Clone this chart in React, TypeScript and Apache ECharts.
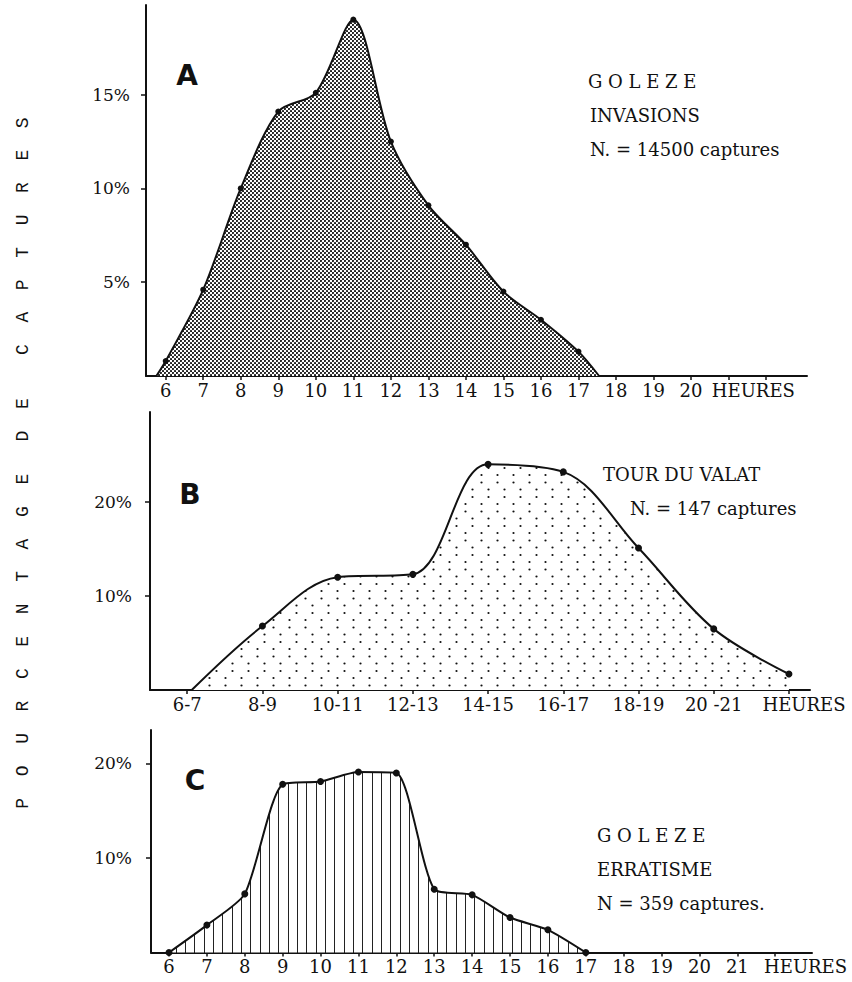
import React, { useEffect, useRef } from 'react';
import * as echarts from 'echarts';

// ---------- data ----------
// Panel A : GOLEZE invasions (hour, % of captures)
const hoursA = [6, 7, 8, 9, 10, 11, 12, 13, 14, 15, 16, 17];
const valuesA = [0.8, 4.6, 10.0, 14.1, 15.1, 19.0, 12.5, 9.1, 7.0, 4.5, 3.0, 1.3];
const zeroStartA = 5.75;
const zeroEndA = 17.55;
const labelHoursA = [6, 7, 8, 9, 10, 11, 12, 13, 14, 15, 16, 17, 18, 19, 20];
const tickHoursA = [6, 7, 8, 9, 10, 11, 12, 13, 14, 15, 16, 17, 18, 19, 20, 21, 22];

// Panel B : Tour du Valat (2-hour classes)
const classLabelsB = ['6-7', '8-9', '10-11', '12-13', '14-15', '16-17', '18-19', '20 -21'];
const classHoursB = [6, 8, 10, 12, 14, 16, 18, 20];
const hoursB = [8, 10, 12, 14, 16, 18, 20, 22];
const valuesB = [6.8, 12.0, 12.3, 24.0, 23.2, 15.1, 6.5, 1.7];
const zeroStartB = 6.12;
const tickHoursB = [6, 8, 10, 12, 14, 16, 18, 20, 22];

// Panel C : GOLEZE erratisme
const hoursC = [6, 7, 8, 9, 10, 11, 12, 13, 14, 15, 16, 17];
const valuesC = [0, 2.9, 6.2, 17.8, 18.1, 19.1, 19.0, 6.7, 6.1, 3.7, 2.4, 0];
const labelHoursC = [6, 7, 8, 9, 10, 11, 12, 13, 14, 15, 16, 17, 18, 19, 20, 21];
const tickHoursC = [6, 7, 8, 9, 10, 11, 12, 13, 14, 15, 16, 17, 18, 19, 20, 21, 22];

const yTicksA = [5, 10, 15];
const yTicksB = [10, 20];
const yTicksC = [10, 20];

// ---------- style ----------
const INK = '#111111';
const SERIF = '"DejaVu Serif", serif';
const MONO = '"Liberation Mono", monospace';
const SANS = '"DejaVu Sans", sans-serif';
const HEURES_A = 21.66;
const HEURES_B = 22.4;
const HEURES_C = 22.8;

function makePattern(kind: 'A' | 'B' | 'C') {
  const c = document.createElement('canvas');
  let w = 4, h = 4;
  if (kind === 'B') { w = 16; h = 29; }
  if (kind === 'C') { w = 28; h = 4; }
  c.width = w; c.height = h;
  const ctx = c.getContext('2d')!;
  ctx.fillStyle = '#ffffff';
  ctx.fillRect(0, 0, w, h);
  ctx.fillStyle = INK;
  const dot = (x: number, y: number, r: number) => {
    ctx.beginPath(); ctx.arc(x, y, r, 0, Math.PI * 2); ctx.fill();
  };
  if (kind === 'A') {
    dot(1, 1, 1.05); dot(3, 3, 1.05);
  } else if (kind === 'B') {
    dot(8.5, 4, 1.1); dot(1.5, 11, 1.1); dot(1.5, 18.5, 1.1); dot(8.5, 25.5, 1.1);
  } else {
    ctx.fillStyle = '#222';
    ctx.fillRect(8, 0, 1, h); ctx.fillRect(17, 0, 1, h); ctx.fillRect(26, 0, 1, h);
  }
  return { image: c, repeat: 'repeat', imageWidth: w, imageHeight: h } as any;
}

function buildSeries(hours: number[], values: number[], start: number | null, end: number | null) {
  const d: any[] = [];
  if (start !== null) d.push({ value: [start, 0], symbol: 'none' });
  hours.forEach((h, i) => d.push({ value: [h, values[i]] }));
  if (end !== null) d.push({ value: [end, 0], symbol: 'none' });
  return d;
}

export default function App() {
  const ref = useRef<HTMLDivElement>(null);
  useEffect(() => {
    document.body.style.margin = '0';
    if (!ref.current) return;
    const chart = echarts.init(ref.current, undefined, { renderer: 'svg' });

    const xAxisBase = (gridIndex: number, min: number, max: number, ticks: number[], labels: number[], fmt: (v: number) => string) => ({
      type: 'value', gridIndex, min, max,
      axisLine: { show: true, onZero: false, lineStyle: { color: INK, width: 2 } },
      splitLine: { show: false },
      axisTick: { show: true, length: 4, inside: false, customValues: ticks, lineStyle: { color: INK, width: 1.5 } },
      axisLabel: { show: true, customValues: labels, formatter: fmt, margin: 5, fontFamily: SERIF, fontSize: 18, color: INK, hideOverlap: false },
    });
    const yAxisBase = (gridIndex: number, max: number, ticks: number[], shift: number, margin: number) => ({
      type: 'value', gridIndex, min: 0, max,
      axisLine: { show: true, onZero: false, lineStyle: { color: INK, width: 2 } },
      splitLine: { show: false },
      axisTick: { show: true, length: 5, inside: false, customValues: ticks, lineStyle: { color: INK, width: 1.5 } },
      axisLabel: { show: true, customValues: ticks, formatter: (v: number) => v + '%', margin, fontFamily: SERIF, fontSize: 17, color: INK, padding: [shift * 2, 0, 0, 0] },
    });

    const lineSeries = (idx: number, data: any[], pattern: any, size: number, smooth: number) => ({
      type: 'line', xAxisIndex: idx, yAxisIndex: idx, data, smooth,
      symbol: 'circle', symbolSize: size, showSymbol: true, showAllSymbol: true,
      itemStyle: { color: INK },
      lineStyle: { color: INK, width: 2 },
      areaStyle: { color: pattern, opacity: 1 },
      emphasis: { disabled: true },
      z: 2,
    });

    const labelB = (v: number) => {
      if (v > 21) return 'HEURES';
      const i = classHoursB.indexOf(Math.round(v));
      return i >= 0 ? classLabelsB[i] : '';
    };

    const t = (text: string, x: number, y: number, size = 18, font = SERIF, weight: any = 'normal', align = 'left') => ({
      type: 'text', x, y,
      style: { text, fontFamily: font, fontSize: size, fontWeight: weight, fill: INK, align, verticalAlign: 'middle' },
      z: 10,
    });

    chart.setOption({
      animation: false,
      grid: [
        { left: 146, top: 5, width: 661, height: 371 },
        { left: 150, top: 412, width: 660, height: 278 },
        { left: 151, top: 730, width: 661, height: 222.5 },
      ],
      xAxis: [
        xAxisBase(0, 5.475, 23.09, tickHoursA, [...labelHoursA, HEURES_A], (v) => (v > 20.5 ? 'HEURES' : String(v))),
        xAxisBase(1, 5.01, 22.56, tickHoursB, [...classHoursB, HEURES_B], labelB),
        xAxisBase(2, 5.525, 22.97, tickHoursC, [...labelHoursC, HEURES_C], (v) => (v > 21.5 ? 'HEURES' : String(v))),
      ],
      yAxis: [
        yAxisBase(0, 19.78, yTicksA, 7, 16),
        yAxisBase(1, 29.57, yTicksB, 5, 18),
        yAxisBase(2, 23.54, yTicksC, 6, 19),
      ],
      series: [
        lineSeries(0, buildSeries(hoursA, valuesA, zeroStartA, zeroEndA), makePattern('A'), 6, 0.3),
        lineSeries(1, buildSeries(hoursB, valuesB, zeroStartB, null), makePattern('B'), 7, 0.35),
        lineSeries(2, buildSeries(hoursC, valuesC, null, null), makePattern('C'), 7, 0.22),
      ],
      graphic: [
        t('A', 187, 75, 28, SANS, 'bold', 'center'),
        t('B', 190, 494, 28, SANS, 'bold', 'center'),
        t('C', 195, 780, 28, SANS, 'bold', 'center'),
        t('G O L E Z E', 588, 81),
        t('INVASIONS', 590, 115),
        t('N. = 14500 captures', 590, 149),
        t('TOUR DU VALAT', 603, 474),
        t('N. = 147 captures', 630, 508),
        t('G O L E Z E', 597, 835),
        t('ERRATISME', 597, 869),
        t('N = 359 captures.', 597, 903),
        {
          type: 'text', x: 23, y: 463, rotation: Math.PI / 2,
          style: {
            text: 'P  O  U  R  C  E  N  T  A  G  E   D  E    C  A  P  T  U  R  E  S',
            fontFamily: MONO, fontSize: 18, fill: INK, align: 'center', verticalAlign: 'middle',
          },
        },
      ],
    });
    return () => chart.dispose();
  }, []);
  return <div ref={ref} style={{ position: 'absolute', left: 0, top: 0, width: 852, height: 982, background: '#fff' }} />;
}
